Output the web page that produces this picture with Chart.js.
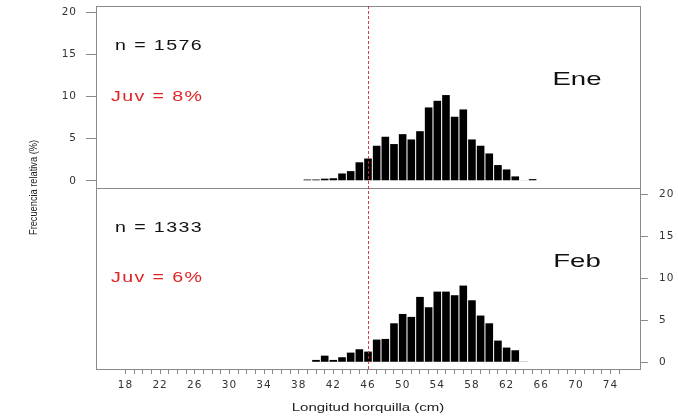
<!DOCTYPE html>
<html>
<head>
<meta charset="utf-8">
<script src="https://cdn.jsdelivr.net/npm/chart.js@4.4.0/dist/chart.umd.min.js"></script>
<style>
  html, body { margin: 0; padding: 0; background: #fff; }
  #wrap { width: 678px; height: 417px; position: relative; }
</style>
</head>
<body>
<div id="wrap"><canvas id="chart"></canvas></div>
<script>
// Frecuencia relativa (%) por talla — Ene (panel superior) y Feb (panel inferior)
const tallasEne = [39,40,41,42,43,44,45,46,47,48,49,50,51,52,53,54,55,56,57,58,59,60,61,62,63,64,65];
const frecEne   = [0.15,0.15,0.25,0.3,0.87,1.15,2.2,2.65,4.17,5.24,4.37,5.55,4.92,5.9,8.73,9.52,10.2,7.62,8.49,4.92,4.17,3.25,1.87,1.35,0.52,0.05,0.2];
const tallasFeb = [40,41,42,43,44,45,46,47,48,49,50,51,52,53,54,55,56,57,58,59,60,61,62,63,64];
const frecFeb   = [0.28,0.79,0.28,0.6,1.15,1.55,1.27,2.7,2.78,4.64,5.75,5.4,7.78,6.55,8.41,8.41,7.98,9.13,7.38,5.56,4.64,2.58,1.75,1.43,0.08];

const yTicks  = [0, 5, 10, 15, 20];
const xTicks  = [18,19,20,21,22,23,24,25,26,27,28,29,30,31,32,33,34,35,36,37,38,39,40,41,42,43,44,45,46,
                 47,48,49,50,51,52,53,54,55,56,57,58,59,60,61,62,63,64,65,66,67,68,69,70,71,72,73,74,75];
const xLabels = [18,22,26,30,34,38,42,46,50,54,58,62,66,70,74];

const meses      = ['Ene', 'Feb'];
const nMuestras  = ['n = 1576', 'n = 1333'];
const juveniles  = ['Juv = 8%', 'Juv = 6%'];
const tallaJuv   = 46;

const GRIS = '#8a8a8a';
const ROJO = '#e02424';
const SANS = '"Liberation Sans", Arial, sans-serif';
Chart.defaults.font.family = '"DejaVu Sans", sans-serif';

// el texto de la figura original sale estirado a lo ancho
const espaciado = {
  id: 'espaciado',
  beforeLayout(chart) { chart.ctx.letterSpacing = '1px'; },
  beforeDraw(chart) { chart.ctx.letterSpacing = '1px'; }
};

function texto(ctx, str, x, y, font, color, align, sx, ls) {
  ctx.save();
  ctx.letterSpacing = (ls || 0) + 'px';
  ctx.font = font;
  ctx.fillStyle = color;
  ctx.textAlign = align;
  ctx.textBaseline = 'middle';
  ctx.translate(x, y);
  ctx.scale(sx, 1);
  ctx.fillText(str, 0, 0);
  ctx.restore();
}

const marco = {
  id: 'marco',
  afterDraw(chart) {
    const { ctx, chartArea: a, scales } = chart;
    const mid = scales.yTop.getPixelForValue(-0.8);
    ctx.save();
    ctx.strokeStyle = GRIS;
    ctx.lineWidth = 1;
    ctx.strokeRect(a.left + 0.5, a.top + 0.5, a.right - a.left, a.bottom - a.top);
    ctx.beginPath();
    ctx.moveTo(a.left, Math.round(mid) + 0.5);
    ctx.lineTo(a.right, Math.round(mid) + 0.5);
    ctx.stroke();

    // talla de primera madurez
    const xj = Math.round(scales.x.getPixelForValue(tallaJuv)) + 0.5;
    ctx.strokeStyle = 'rgba(215,40,55,0.9)';
    ctx.setLineDash([3, 2]);
    ctx.beginPath();
    ctx.moveTo(xj, a.top);
    ctx.lineTo(xj, a.bottom);
    ctx.stroke();
    ctx.restore();

    // textos de cada panel
    ['yTop', 'yBot'].forEach((id, i) => {
      const ys = scales[id];
      texto(ctx, nMuestras[i], a.left + 19, ys.getPixelForValue(16), '14px ' + SANS, '#111', 'left', 1.4, 1);
      texto(ctx, juveniles[i], a.left + 15, ys.getPixelForValue(10), '14px ' + SANS, ROJO, 'left', 1.4, 1);
      texto(ctx, meses[i], a.right - 63, ys.getPixelForValue(12), '19px ' + SANS, '#111', 'center', 1.45, 0);
    });

    // títulos de ejes
    texto(ctx, 'Longitud horquilla (cm)', (a.left + a.right) / 2, 408, '10px ' + SANS, '#222', 'center', 1.5, 0);
    ctx.save();
    ctx.translate(34, (a.top + a.bottom) / 2);
    ctx.rotate(-Math.PI / 2);
    texto(ctx, 'Frecuencia relativa (%)', 0, 0, '11px ' + SANS, '#222', 'center', 0.84, 0);
    ctx.restore();
  }
};

const barras = (tallas, frec, eje) => ({
  data: tallas.map((t, i) => ({ x: t, y: frec[i] })),
  yAxisID: eje,
  backgroundColor: '#000',
  borderWidth: 0,
  barPercentage: 0.88,
  categoryPercentage: 1,
  grouped: false
});

// tamaños fijos de los ejes, sin el relleno automático de etiquetas
const fijarAncho = w => s => { s.width = w; s.paddingTop = 0; s.paddingBottom = 0; };

new Chart(document.getElementById('chart'), {
  type: 'bar',
  data: {
    datasets: [
      barras(tallasEne, frecEne, 'yTop'),
      barras(tallasFeb, frecFeb, 'yBot')
    ]
  },
  options: {
    responsive: true,
    maintainAspectRatio: false,
    animation: false,
    layout: { padding: { top: 6, left: 0, right: 0, bottom: 0 } },
    plugins: { legend: { display: false }, tooltip: { enabled: false } },
    scales: {
      x: {
        type: 'linear',
        min: 14.6, max: 77.4,
        offset: false,
        afterBuildTicks: s => { s.ticks = xTicks.map(v => ({ value: v })); },
        afterFit: s => { s.height = 48; s.paddingLeft = 0; s.paddingRight = 0; },
        ticks: {
          autoSkip: false, maxRotation: 0, padding: 5, color: '#333',
          font: { size: 10.5 },
          callback: v => xLabels.includes(v) ? String(v) : ''
        },
        grid: { offset: false, drawOnChartArea: false, drawTicks: true, tickLength: 5, color: GRIS },
        border: { display: false }
      },
      yTop: {
        type: 'linear', axis: 'y', position: 'left',
        min: -22.4, max: 20.8,
        afterBuildTicks: s => { s.ticks = yTicks.map(v => ({ value: v })); },
        afterFit: fijarAncho(96),
        ticks: { padding: 9, color: '#333', font: { size: 10.5 } },
        grid: { drawOnChartArea: false, drawTicks: true, tickLength: 10, color: GRIS },
        border: { display: false }
      },
      yBot: {
        type: 'linear', axis: 'y', position: 'right',
        min: -0.8, max: 42.4,
        afterBuildTicks: s => { s.ticks = yTicks.map(v => ({ value: v })); },
        afterFit: fijarAncho(38),
        ticks: { padding: 11, color: '#333', font: { size: 10.5 } },
        grid: { drawOnChartArea: false, drawTicks: true, tickLength: 8, color: GRIS },
        border: { display: false }
      }
    }
  },
  plugins: [espaciado, marco]
});
</script>
</body>
</html>
